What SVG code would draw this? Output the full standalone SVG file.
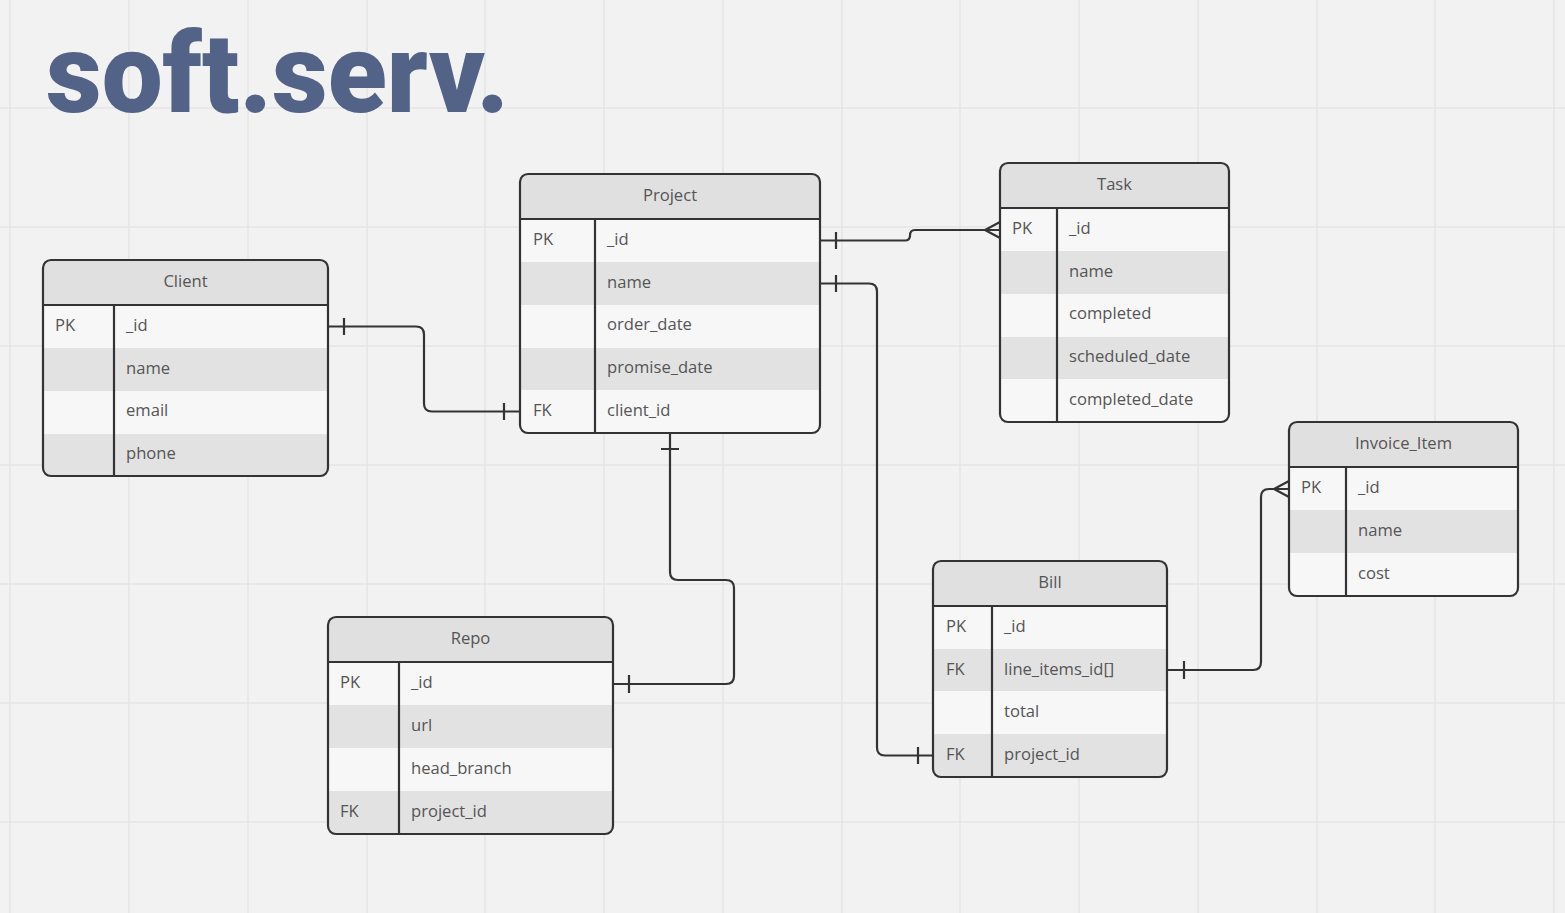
<svg xmlns="http://www.w3.org/2000/svg" width="1565" height="913" viewBox="0 0 1565 913">
<style>
.grid line{stroke:#e4e4e4;stroke-width:1.5}
.hdr{fill:#e0e0e0}
.lt{fill:#f7f7f7}
.dk{fill:#e2e2e2}
.bd{fill:none;stroke:#333;stroke-width:2.2}
.dv{stroke:#333;stroke-width:2.2}
text{font-family:"Open Sans","Noto Sans","Liberation Sans",sans-serif;font-size:16.6px;fill:#555}
.h{text-anchor:middle}
.title{font-family:Roboto,"Liberation Sans",sans-serif;font-weight:900;font-size:112px;fill:#536387}
.conn path{fill:none;stroke:#333;stroke-width:2.2}
</style>
<defs>
<clipPath id="cClient"><rect x="43" y="260" width="285" height="216" rx="8"/></clipPath>
<clipPath id="cProject"><rect x="520" y="174" width="300" height="259" rx="8"/></clipPath>
<clipPath id="cTask"><rect x="1000" y="163" width="229" height="259" rx="8"/></clipPath>
<clipPath id="cInv"><rect x="1289" y="422" width="229" height="174" rx="8"/></clipPath>
<clipPath id="cBill"><rect x="933" y="561" width="234" height="216" rx="8"/></clipPath>
<clipPath id="cRepo"><rect x="328" y="617" width="285" height="217" rx="8"/></clipPath>
</defs>
<rect width="1565" height="913" fill="#f2f2f2"/>
<g class="grid">
<line x1="10" y1="0" x2="10" y2="913"/><line x1="129" y1="0" x2="129" y2="913"/><line x1="248" y1="0" x2="248" y2="913"/><line x1="367" y1="0" x2="367" y2="913"/><line x1="485" y1="0" x2="485" y2="913"/><line x1="604" y1="0" x2="604" y2="913"/><line x1="723" y1="0" x2="723" y2="913"/><line x1="842" y1="0" x2="842" y2="913"/><line x1="960" y1="0" x2="960" y2="913"/><line x1="1079" y1="0" x2="1079" y2="913"/><line x1="1198" y1="0" x2="1198" y2="913"/><line x1="1317" y1="0" x2="1317" y2="913"/><line x1="1435" y1="0" x2="1435" y2="913"/><line x1="1554" y1="0" x2="1554" y2="913"/>
<line x1="0" y1="108" x2="1565" y2="108"/><line x1="0" y1="227" x2="1565" y2="227"/><line x1="0" y1="346" x2="1565" y2="346"/><line x1="0" y1="465" x2="1565" y2="465"/><line x1="0" y1="584" x2="1565" y2="584"/><line x1="0" y1="703" x2="1565" y2="703"/><line x1="0" y1="822" x2="1565" y2="822"/>
</g>
<text id="title" class="title" x="46" y="112" textLength="463" lengthAdjust="spacingAndGlyphs">soft.serv.</text>

<g class="conn" id="connectors">
<path d="M328,326.5 H416 Q424,326.5 424,334.5 V403.5 Q424,411.5 432,411.5 H520"/>
<path d="M344,318 V335 M504,403 V420"/>
<path d="M820,240.5 H905 Q910,240.5 910,235.5 Q910,230 915,230 H1000"/>
<path d="M836,232 V249 M1000,222 L985,230 L1000,238"/>
<path d="M820,283.5 H869 Q877,283.5 877,291.5 V747.5 Q877,755.5 885,755.5 H933"/>
<path d="M836,275 V292 M918,747 V764"/>
<path d="M670,433 V572 Q670,580 678,580 H726 Q734,580 734,588 V676 Q734,684 726,684 H613"/>
<path d="M661,449 H679 M629,675 V693"/>
<path d="M1167,670 H1253 Q1261,670 1261,662 V497 Q1261,489 1269,489 H1289"/>
<path d="M1184,661 V679 M1289,481 L1274,489 L1289,497"/>
</g>

<g id="client">
<g clip-path="url(#cClient)">
<rect class="hdr" x="43" y="260" width="285" height="45"/>
<rect class="lt" x="43" y="305" width="285" height="43"/>
<rect class="dk" x="43" y="348" width="285" height="43"/>
<rect class="lt" x="43" y="391" width="285" height="43"/>
<rect class="dk" x="43" y="434" width="285" height="42"/>
</g>
<line class="dv" x1="43" y1="305" x2="328" y2="305"/>
<line class="dv" x1="114" y1="305" x2="114" y2="476"/>
<rect class="bd" x="43" y="260" width="285" height="216" rx="8"/>
<text class="h" x="185.5" y="287">Client</text>
<text x="55" y="331">PK</text><text x="126" y="331">_id</text>
<text x="126" y="374">name</text>
<text x="126" y="416">email</text>
<text x="126" y="459">phone</text>
</g>

<g id="project">
<g clip-path="url(#cProject)">
<rect class="hdr" x="520" y="174" width="300" height="45"/>
<rect class="lt" x="520" y="219" width="300" height="43"/>
<rect class="dk" x="520" y="262" width="300" height="43"/>
<rect class="lt" x="520" y="305" width="300" height="43"/>
<rect class="dk" x="520" y="348" width="300" height="42"/>
<rect class="lt" x="520" y="390" width="300" height="43"/>
</g>
<line class="dv" x1="520" y1="219" x2="820" y2="219"/>
<line class="dv" x1="595" y1="219" x2="595" y2="433"/>
<rect class="bd" x="520" y="174" width="300" height="259" rx="8"/>
<text class="h" x="670" y="201">Project</text>
<text x="533" y="245">PK</text><text x="607" y="245">_id</text>
<text x="607" y="288">name</text>
<text x="607" y="330">order_date</text>
<text x="607" y="373">promise_date</text>
<text x="533" y="416">FK</text><text x="607" y="416">client_id</text>
</g>

<g id="task">
<g clip-path="url(#cTask)">
<rect class="hdr" x="1000" y="163" width="229" height="45"/>
<rect class="lt" x="1000" y="208" width="229" height="43"/>
<rect class="dk" x="1000" y="251" width="229" height="43"/>
<rect class="lt" x="1000" y="294" width="229" height="43"/>
<rect class="dk" x="1000" y="337" width="229" height="42"/>
<rect class="lt" x="1000" y="379" width="229" height="43"/>
</g>
<line class="dv" x1="1000" y1="208" x2="1229" y2="208"/>
<line class="dv" x1="1057" y1="208" x2="1057" y2="422"/>
<rect class="bd" x="1000" y="163" width="229" height="259" rx="8"/>
<text class="h" x="1114.5" y="190">Task</text>
<text x="1012" y="234">PK</text><text x="1069" y="234">_id</text>
<text x="1069" y="277">name</text>
<text x="1069" y="319">completed</text>
<text x="1069" y="362">scheduled_date</text>
<text x="1069" y="405">completed_date</text>
</g>

<g id="invoice_item">
<g clip-path="url(#cInv)">
<rect class="hdr" x="1289" y="422" width="229" height="45"/>
<rect class="lt" x="1289" y="467" width="229" height="43"/>
<rect class="dk" x="1289" y="510" width="229" height="43"/>
<rect class="lt" x="1289" y="553" width="229" height="43"/>
</g>
<line class="dv" x1="1289" y1="467" x2="1518" y2="467"/>
<line class="dv" x1="1346" y1="467" x2="1346" y2="596"/>
<rect class="bd" x="1289" y="422" width="229" height="174" rx="8"/>
<text class="h" x="1403.5" y="449">Invoice_Item</text>
<text x="1301" y="493">PK</text><text x="1358" y="493">_id</text>
<text x="1358" y="536">name</text>
<text x="1358" y="579">cost</text>
</g>

<g id="bill">
<g clip-path="url(#cBill)">
<rect class="hdr" x="933" y="561" width="234" height="45"/>
<rect class="lt" x="933" y="606" width="234" height="43"/>
<rect class="dk" x="933" y="649" width="234" height="42"/>
<rect class="lt" x="933" y="691" width="234" height="43"/>
<rect class="dk" x="933" y="734" width="234" height="43"/>
</g>
<line class="dv" x1="933" y1="606" x2="1167" y2="606"/>
<line class="dv" x1="992" y1="606" x2="992" y2="777"/>
<rect class="bd" x="933" y="561" width="234" height="216" rx="8"/>
<text class="h" x="1050" y="588">Bill</text>
<text x="946" y="632">PK</text><text x="1004" y="632">_id</text>
<text x="946" y="675">FK</text><text x="1004" y="675">line_items_id[]</text>
<text x="1004" y="717">total</text>
<text x="946" y="760">FK</text><text x="1004" y="760">project_id</text>
</g>

<g id="repo">
<g clip-path="url(#cRepo)">
<rect class="hdr" x="328" y="617" width="285" height="45"/>
<rect class="lt" x="328" y="662" width="285" height="43"/>
<rect class="dk" x="328" y="705" width="285" height="43"/>
<rect class="lt" x="328" y="748" width="285" height="43"/>
<rect class="dk" x="328" y="791" width="285" height="43"/>
</g>
<line class="dv" x1="328" y1="662" x2="613" y2="662"/>
<line class="dv" x1="399" y1="662" x2="399" y2="834"/>
<rect class="bd" x="328" y="617" width="285" height="217" rx="8"/>
<text class="h" x="470.5" y="644">Repo</text>
<text x="340" y="688">PK</text><text x="411" y="688">_id</text>
<text x="411" y="731">url</text>
<text x="411" y="774">head_branch</text>
<text x="340" y="817">FK</text><text x="411" y="817">project_id</text>
</g>
</svg>
